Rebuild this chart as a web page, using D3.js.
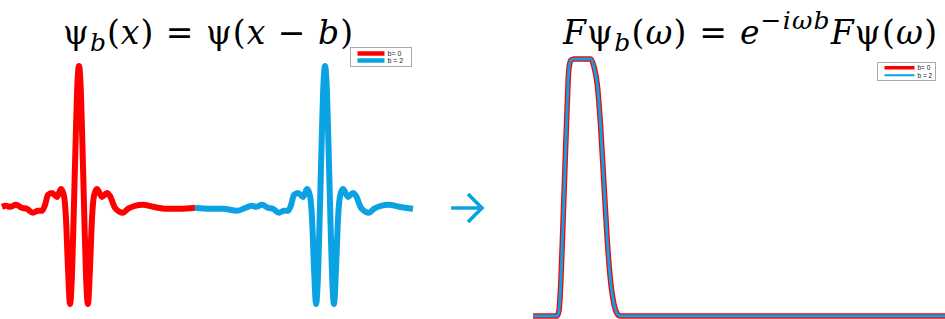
<!DOCTYPE html>
<html>
<head>
<meta charset="utf-8">
<script src="https://cdn.jsdelivr.net/npm/d3@7"></script>
<style>
  body { margin: 0; background: #fff; }
  svg { display: block; }
  .title { font-family: "DejaVu Serif", serif; fill: #000; }
  .legend text { font-family: "Liberation Sans", Arial, sans-serif; fill: #222; }
</style>
</head>
<body>
<div id="chart"></div>
<script>
// mother wavelet psi(t) (t in units of b)
const psiT = [-1.057, -0.935, -0.829, -0.715, -0.626, -0.593, -0.561, -0.512, -0.463, -0.423,
    -0.374, -0.333, -0.301, -0.276, -0.252, -0.220, -0.179, -0.146, -0.122, -0.106,
    -0.089, -0.073, -0.057, -0.041, -0.024, -0.012, 0, 0.012, 0.024, 0.041,
    0.057, 0.073, 0.089, 0.106, 0.122, 0.146, 0.187, 0.228, 0.252, 0.293,
    0.358, 0.398, 0.455, 0.520, 0.602, 0.715, 0.821, 0.943];
const psiV = [0.00, -0.01, -0.01, -0.03, 0.01, 0.02, 0.01, 0.03, 0.00, -0.01,
    -0.05, -0.03, -0.03, 0.03, 0.13, 0.15, 0.11, 0.19, 0.12, -0.10,
    -0.62, -0.97, -0.68, 0.02, 0.82, 1.27, 1.43, 1.27, 0.82, 0.02,
    -0.68, -0.97, -0.62, -0.10, 0.12, 0.19, 0.11, 0.15, 0.12, 0.00,
    -0.05, -0.01, 0.02, 0.03, 0.01, -0.01, -0.01, 0.00];

// shifts and the part of the x axis each shifted copy is shown on
const shifts = [0, 2];
const shownFrom = [-0.626, 0.943];
const shownTo = [0.943, 2.715];
const legendLabels = ["b= 0", "b = 2"];
const colors = ["#ff0000", "#0ba2e3"];

// magnitude of the Fourier transform (same for both shifts)
const freq = [0, 5.8, 6.3, 6.8, 7.3, 7.8, 8.3, 8.7, 9.2, 10, 14, 14.8, 15.6, 16.4,
    17.2, 18, 18.8, 19.6, 20.4, 21.2, 100];
const mag = [0, 0, 0.02, 0.15, 0.37, 0.6, 0.82, 0.96, 0.995, 1, 1, 0.97, 0.9, 0.74,
    0.52, 0.3, 0.14, 0.05, 0.01, 0, 0];

const W = 945, H = 319;

const svg = d3.select("#chart").append("svg")
    .attr("width", W)
    .attr("height", H);

// ---- left panel: psi_b(x)
const xL = d3.scaleLinear().domain([-0.642, 2.715]).range([0, 413]);
const yL = d3.scaleLinear().domain([-0.96, 1.42]).range([303, 67]);

const psi = psiT.map((t, i) => ({ t: t, v: psiV[i] }));

const lineL = d3.line()
    .curve(d3.curveMonotoneX)
    .x(d => xL(d.t))
    .y(d => yL(d.v));

shifts.forEach((b, i) => {
    let pts = psi
        .map(d => ({ t: d.t + b, v: d.v }))
        .filter(d => d.t >= shownFrom[i] - 1e-6 && d.t <= shownTo[i] + 1e-6);
    svg.append("path")
        .datum(pts)
        .attr("fill", "none")
        .attr("stroke", colors[i])
        .attr("stroke-width", 6)
        .attr("stroke-linejoin", "round")
        .attr("d", lineL);
});

// ---- right panel: |F psi_b(omega)|
const xR = d3.scaleLinear().domain([0, 100]).range([533, 945]);
const yR = d3.scaleLinear().domain([0, 1]).range([316, 59]);

const spec = freq.map((f, i) => ({ f: f, m: mag[i] }));

const lineR = d3.line()
    .curve(d3.curveMonotoneX)
    .x(d => xR(d.f))
    .y(d => yR(d.m));

const widthsR = [5.5, 3];
shifts.forEach((b, i) => {
    svg.append("path")
        .datum(spec)
        .attr("fill", "none")
        .attr("stroke", colors[i])
        .attr("stroke-width", widthsR[i])
        .attr("stroke-linejoin", "round")
        .attr("d", lineR);
});

// ---- legends
function drawLegend(x0, y0, w, h, lineLen, rowGap, widths, fontSize) {
    let g = svg.append("g").attr("class", "legend")
        .attr("transform", "translate(" + x0 + "," + y0 + ")");
    g.append("rect")
        .attr("width", w)
        .attr("height", h)
        .attr("fill", "#fff")
        .attr("stroke", "#aaa")
        .attr("stroke-width", 1);
    legendLabels.forEach((lab, i) => {
        let yy = h / 2 - rowGap / 2 + i * rowGap;
        g.append("line")
            .attr("x1", 7).attr("x2", 7 + lineLen)
            .attr("y1", yy).attr("y2", yy)
            .attr("stroke", colors[i])
            .attr("stroke-width", widths[i]);
        g.append("text")
            .attr("x", 10 + lineLen)
            .attr("y", yy + fontSize * 0.35)
            .attr("font-size", fontSize)
            .text(lab);
    });
}
drawLegend(350.5, 47.5, 61, 19, 27, 7, [4.5, 4.5], 7);
drawLegend(877.5, 62.5, 58, 18, 30, 7.5, [3.5, 2], 6.5);

// ---- titles
function addTitle(x, y, size, width, parts) {
    let t = svg.append("text")
        .attr("class", "title")
        .attr("x", x)
        .attr("y", y)
        .attr("font-size", size);
    parts.forEach(p => {
        let s = t.append("tspan").text(p.s);
        if (p.it) s.attr("font-style", "italic");
        if (p.sz) s.attr("font-size", p.sz);
        if (p.dy) s.attr("dy", p.dy);
    });
    t.attr("textLength", width).attr("lengthAdjust", "spacing");
    return t;
}

addTitle(63, 44, 33, 290, [
    { s: "\u03c8" },
    { s: "b", it: true, sz: 25, dy: 7 },
    { s: "(", dy: -7 },
    { s: "x", it: true },
    { s: ") = \u03c8(" },
    { s: "x", it: true },
    { s: " \u2212 " },
    { s: "b", it: true },
    { s: ")" }
]);

addTitle(563, 44, 33, 374, [
    { s: "F", it: true },
    { s: "\u03c8" },
    { s: "b", it: true, sz: 25, dy: 7 },
    { s: "(", dy: -7 },
    { s: "\u03c9", it: true },
    { s: ") = " },
    { s: "e", it: true },
    { s: "\u2212i\u03c9b", it: true, sz: 25, dy: -15 },
    { s: "F", it: true, dy: 15 },
    { s: "\u03c8(" },
    { s: "\u03c9", it: true },
    { s: ")" }
]);

// ---- arrow between the panels
const arrowX = 451, arrowY = 208, arrowLen = 31, arrowHead = 14;
const ap = d3.path();
ap.moveTo(arrowX, arrowY);
ap.lineTo(arrowX + arrowLen, arrowY);
ap.moveTo(arrowX + arrowLen - arrowHead, arrowY - arrowHead);
ap.lineTo(arrowX + arrowLen, arrowY);
ap.lineTo(arrowX + arrowLen - arrowHead, arrowY + arrowHead);
svg.append("path")
    .attr("d", ap.toString())
    .attr("fill", "none")
    .attr("stroke", colors[1])
    .attr("stroke-width", 3.6);
</script>
</body>
</html>
